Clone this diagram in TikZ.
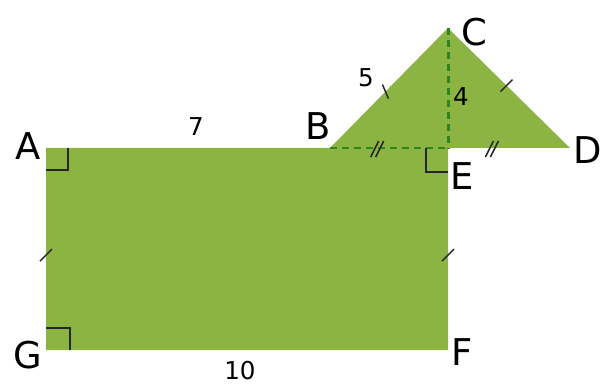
\documentclass[tikz,border=0pt]{standalone}
\usepackage{fontspec}
\setmainfont{DejaVu Sans}
\usetikzlibrary{calc}
\definecolor{LeafGreen}{HTML}{8CB443}
\definecolor{DarkLeaf}{HTML}{2E8520}
\tikzset{
  % Filled figure
  fig/.style={fill=LeafGreen, draw=none},
  % Dashed height and base
  hgt/.style={draw=DarkLeaf, line width=1.7pt, dash pattern=on 0.14cm off 0.1cm},
  % Right-angle mark
  rmark/.style={draw=black!85, line width=0.75pt},
  % Congruence tick
  tck/.style={draw=black!85, line width=0.85pt},
  % Vertex letter
  vlbl/.style={font=\fontsize{21}{21}\selectfont, inner sep=0pt},
  % Length label
  nlbl/.style={font=\fontsize{14}{14}\selectfont, inner sep=0pt}
}
\begin{document}
\begin{tikzpicture}[x=0.02cm, y=-0.02cm]
  \useasboundingbox (0,0) rectangle (604,384);

  \coordinate (A) at (46,148);
  \coordinate (B) at (330,148);
  \coordinate (C) at (448,28);
  \coordinate (D) at (570,148);
  \coordinate (E) at (448,148);
  \coordinate (F) at (448,350);
  \coordinate (G) at (46,350);

  % rectangle and triangle as one shape
  \fill[fig] (G) -- (A) -- (B) -- (C) -- (D) -- (E) -- (F) -- cycle;

  \draw[hgt] (C) -- (E);
  \draw[hgt, yshift=-1.6pt] (B) -- (E);

  % right angles
  \draw[rmark] ($(A)+(0,22)$) -| ($(A)+(22,0)$);
  \draw[rmark] ($(G)+(0,-22)$) -| ($(G)+(24,0)$);
  \draw[rmark] ($(E)+(-22,0)$) |- ($(E)+(0,24)$);

  % single ticks
  \coordinate (tBC) at ($(B)!0.47!(C)$);
  \coordinate (tCD) at ($(C)!0.48!(D)$);
  \coordinate (tAG) at ($(A)!0.53!(G)$);
  \coordinate (tEF) at ($(E)!0.53!(F)$);
  \draw[tck] ($(tBC)+(-3,-7)$) -- ($(tBC)+(3,7)$);
  \draw[tck] ($(tCD)+(-6,6)$) -- ($(tCD)+(6,-6)$);
  \draw[tck] ($(tAG)+(-6,6)$) -- ($(tAG)+(6,-6)$);
  \draw[tck] ($(tEF)+(-6,6)$) -- ($(tEF)+(6,-6)$);

  % double ticks
  \coordinate (tBE) at ($(B)!0.4!(E)$);
  \coordinate (tED) at ($(E)!0.36!(D)$);
  \foreach \p in {tBE,tED}{
    \draw[tck] ($(\p)+(-6.5,9)$) -- ($(\p)+(1.5,-7)$);
    \draw[tck] ($(\p)+(-1.5,9)$) -- ($(\p)+(6.5,-7)$);
  }

  % vertex letters
  \node[vlbl] (lA) at (28,146) {A};
  \node[vlbl] (lB) at (318,126) {B};
  \node[vlbl] (lC) at (474,32) {C};
  \node[vlbl] (lD) at (588,150) {D};
  \node[vlbl] (lE) at (462,176) {E};
  \node[vlbl] (lF) at (462,352) {F};
  \node[vlbl] (lG) at (28,355) {G};

  % lengths
  \node[nlbl] (n7)  at (196,127) {7};
  \node[nlbl] (n5)  at (366,78)  {5};
  \node[nlbl] (n4)  at (461,97)  {4};
  \node[nlbl] (n10) at (240,371) {10};
\end{tikzpicture}
\end{document}
